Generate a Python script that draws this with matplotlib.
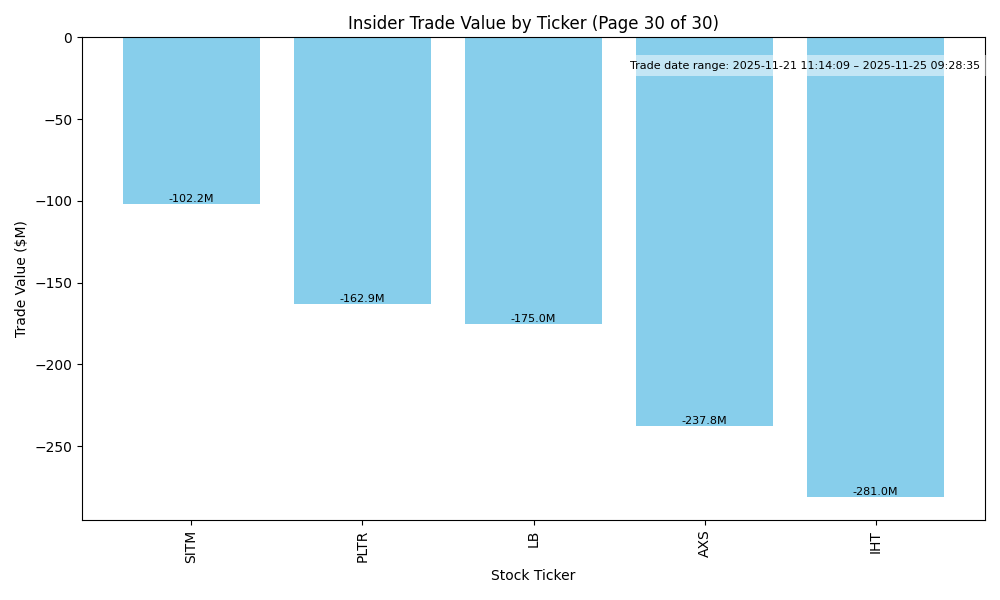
import matplotlib
matplotlib.use("Agg")
import matplotlib.pyplot as plt

tickers = ["SITM", "PLTR", "LB", "AXS", "IHT"]
values = [-102.2, -162.9, -175.0, -237.8, -281.0]
date_range = "Trade date range: 2025-11-21 11:14:09 – 2025-11-25 09:28:35"

fig, ax = plt.subplots(figsize=(10, 6), dpi=100)
bars = ax.bar(tickers, values, color="skyblue")
for b, v in zip(bars, values):
    ax.text(b.get_x() + b.get_width() / 2, v, f"{v:.1f}M",
            ha="center", va="bottom", fontsize=8)
ax.set_title("Insider Trade Value by Ticker (Page 30 of 30)")
ax.set_xlabel("Stock Ticker")
ax.set_ylabel("Trade Value ($M)")
plt.setp(ax.get_xticklabels(), rotation=90)
ax.text(0.995, 0.951, date_range, transform=ax.transAxes, ha="right", va="top",
        fontsize=8, bbox=dict(facecolor="white", alpha=0.5, edgecolor="none"))
fig.subplots_adjust(left=0.082, right=0.985, top=0.938, bottom=0.1333)
fig.savefig("out.png")
